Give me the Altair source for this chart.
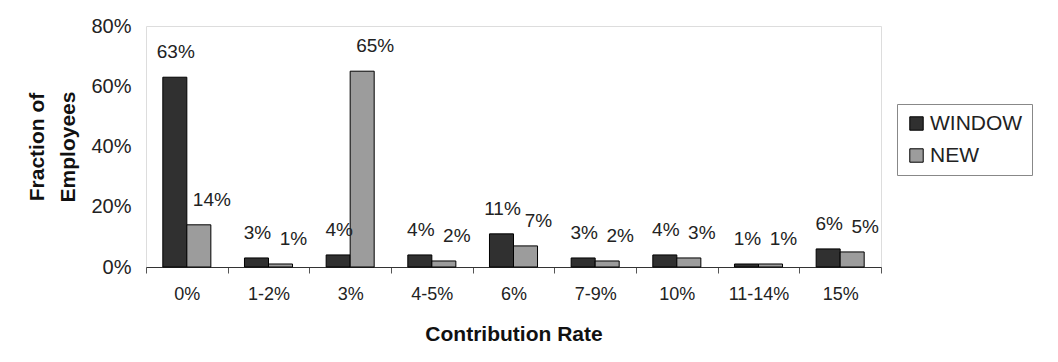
import altair as alt
import pandas as pd

categories = ["0%", "1-2%", "3%", "4-5%", "6%", "7-9%", "10%", "11-14%", "15%"]
window_vals = [63, 3, 4, 4, 11, 3, 4, 1, 6]
new_vals = [14, 1, 65, 2, 7, 2, 3, 1, 5]
series_names = ["WINDOW", "NEW"]
y_ticks = [0, 20, 40, 60, 80]

rows = []
for c, w, n in zip(categories, window_vals, new_vals):
    rows.append({"cat": c, "series": "WINDOW", "val": w / 100})
    rows.append({"cat": c, "series": "NEW", "val": n / 100})
df = pd.DataFrame(rows)

FONT = "Liberation Sans"

x_enc = alt.X(
    "cat:N",
    sort=categories,
    scale=alt.Scale(paddingInner=0, paddingOuter=0),
    axis=alt.Axis(
        title="Contribution Rate",
        labelAngle=0,
        labelFontSize=18,
        labelColor="#222",
        labelPadding=12,
        labelFont=FONT,
        tickBand="extent",
        ticks=True,
        tickSize=6,
        tickColor="#555",
        domainColor="#333",
        titleFont=FONT,
        titleFontSize=21,
        titleFontWeight="bold",
        titleColor="#111",
        titlePadding=20,
    ),
)
xoff = alt.XOffset(
    "series:N",
    sort=series_names,
    scale=alt.Scale(paddingInner=0, paddingOuter=0.7),
)
y_enc = alt.Y(
    "val:Q",
    scale=alt.Scale(domain=[0, 0.8]),
    axis=alt.Axis(
        title=["Fraction of", "Employees"],
        values=[v / 100 for v in y_ticks],
        format=".0%",
        grid=False,
        ticks=False,
        domain=False,
        labelFontSize=20,
        labelFont=FONT,
        labelColor="#222",
        labelPadding=15,
        titleFont=FONT,
        titleFontSize=21,
        titleFontWeight="bold",
        titleColor="#111",
        titleLineHeight=31,
        titlePadding=12,
    ),
)
color_enc = alt.Color(
    "series:N",
    sort=series_names,
    scale=alt.Scale(domain=series_names, range=["#303030", "#9c9c9c"]),
    legend=alt.Legend(
        title=None,
        orient="none",
        legendX=751,
        legendY=78,
        labelFont=FONT,
        labelFontSize=21,
        labelColor="#222",
        symbolType="square",
        symbolSize=180,
        symbolStrokeColor="#000",
        symbolStrokeWidth=1,
        rowPadding=10,
        labelOffset=3,
        padding=9,
        strokeColor="#888",
    ),
)

bars = alt.Chart(df).mark_bar(stroke="#000", strokeWidth=1).encode(
    x=x_enc, xOffset=xoff, y=y_enc, color=color_enc
)

text_w = alt.Chart(df).transform_filter(alt.datum.series == "WINDOW").mark_text(
    font=FONT, fontSize=19, color="#222", baseline="middle", dy=-25, dx=1
).encode(x=alt.X("cat:N", sort=categories), xOffset=xoff, y="val:Q",
         text=alt.Text("val:Q", format=".0%"))

text_n = alt.Chart(df).transform_filter(alt.datum.series == "NEW").mark_text(
    font=FONT, fontSize=19, color="#222", baseline="middle", dy=-25, dx=13
).encode(x=alt.X("cat:N", sort=categories), xOffset=xoff, y="val:Q",
         text=alt.Text("val:Q", format=".0%"))

chart = alt.layer(bars, text_w, text_n).properties(
    width=735, height=241,
    padding={"left": 18, "top": 8, "right": 5, "bottom": 5},
).configure_view(stroke="#8a8a8a", strokeWidth=1.5).configure(background="white")

chart.save("out.html", embed_options={"renderer": "svg", "actions": False})
